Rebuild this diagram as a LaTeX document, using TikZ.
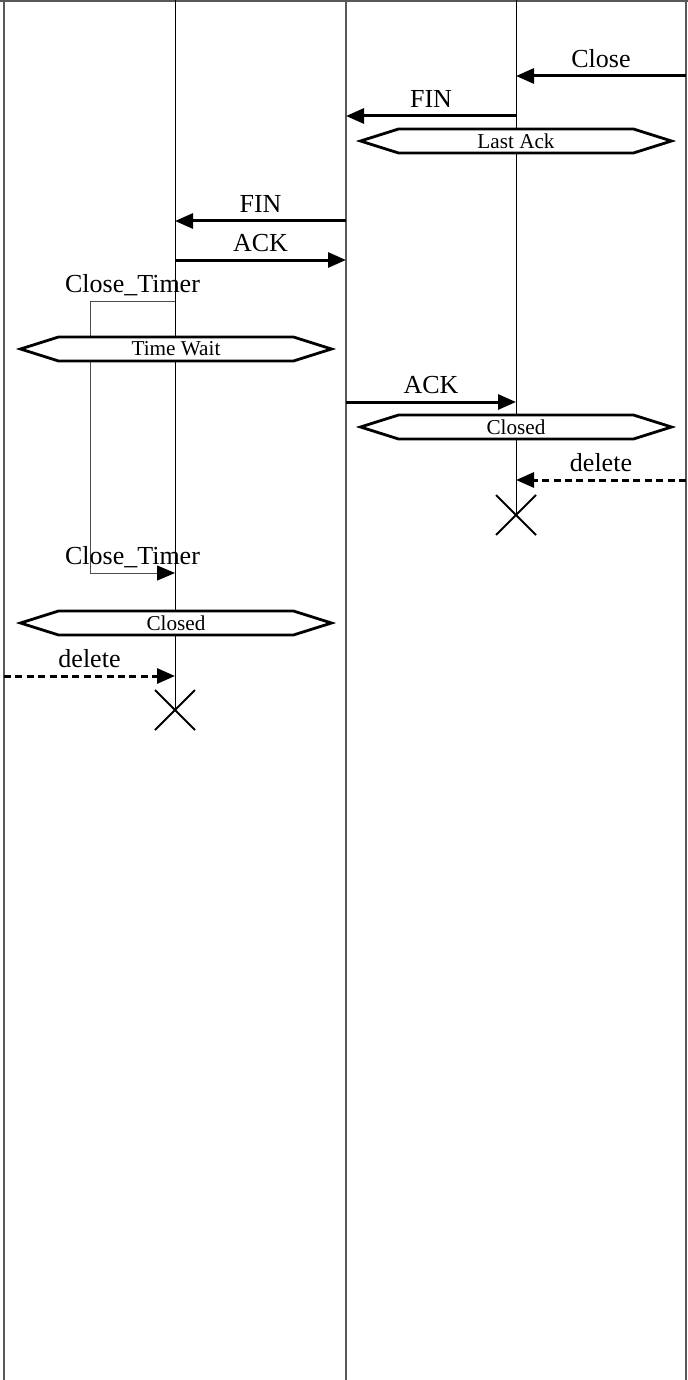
\documentclass[tikz,border=0pt]{standalone}
\usepackage{fontspec}
\setmainfont{Liberation Serif}
\usetikzlibrary{arrows.meta, shapes.symbols, shapes.misc}

\begin{document}
\begin{tikzpicture}[x=0.5pt, y=-0.5pt,
  msg/.style={line width=1.5pt, -{Triangle[length=9pt, width=7.5pt]}},
  lbl/.style={font=\fontsize{13}{15}\selectfont, anchor=base, inner sep=0pt, yshift=4.3pt, text=black},
  state/.style={signal, signal to=west and east, draw, fill=white, line width=1.4pt,
    signal pointer angle=35, minimum width=155.5pt, minimum height=12pt, inner sep=0pt,
    font=\fontsize{10.6}{12}\selectfont},
  life/.style={line width=0.5pt},
  lifeg/.style={line width=1pt, gray!70!black},
  timer/.style={line width=0.5pt, gray!60!black},
  stop/.style={cross out, draw, line width=1pt, minimum size=19pt, inner sep=0pt}]
\useasboundingbox (0,0) rectangle (688,1380);
% ---------- lifelines ----------
\coordinate (envA) at (4,0);
\coordinate (closer) at (175,0);
\coordinate (channel) at (346,0);
\coordinate (peer) at (516,0);
\coordinate (envB) at (686,0);
\draw[gray!70!black, line width=1pt] (0,1) -- (688,1);
\node[stop] (xPeer) at (516,515) {};
\node[stop] (xCloser) at (175,710) {};
\draw[lifeg] (envA) -- (4,1380);
\draw[lifeg] (channel) -- (346,1380);
\draw[lifeg] (envB) -- (686,1380);
\draw[life] (closer) -- (xCloser.center);
\draw[life] (peer) -- (xPeer.center);
% ---------- peer side: close request ----------
\coordinate (close0) at (686,76);
\coordinate (close1) at (516,76);
\draw[msg] (close0) -- node[lbl] (tClose) {Close} (close1);
\coordinate (fin0) at (516,116);
\coordinate (fin1) at (346,116);
\draw[msg] (fin0) -- node[lbl] (tFin) {FIN} (fin1);
\node[state] (sLastAck) at (516,141) {Last Ack};
% ---------- closer side ----------
\coordinate (fin2) at (346,221);
\coordinate (fin3) at (175,221);
\draw[msg] (fin2) -- node[lbl] (tFinB) {FIN} (fin3);
\coordinate (ack0) at (175,260);
\coordinate (ack1) at (346,260);
\draw[msg] (ack0) -- node[lbl] (tAck) {ACK} (ack1);
% timer set, expires later
\coordinate (tmr0) at (175,301);
\coordinate (tmr1) at (90,301);
\coordinate (tmr2) at (90,573);
\coordinate (tmr3) at (175,573);
\draw[timer] (tmr0) -- node[lbl] (tSet) {Close\_Timer} (tmr1) -- (tmr2);
\node[state] (sTimeWait) at (176,349) {Time Wait};
\draw[timer, -{Triangle[length=9pt, width=7.5pt, color=black]}] (tmr2) -- node[lbl] (tExp) {Close\_Timer} (tmr3);
% ---------- ack reaches peer ----------
\coordinate (ack2) at (346,402);
\coordinate (ack3) at (516,402);
\draw[msg] (ack2) -- node[lbl] (tAckB) {ACK} (ack3);
\node[state] (sClosedB) at (516,427) {Closed};
\coordinate (del0) at (686,480);
\coordinate (del1) at (516,480);
\draw[msg, dash pattern=on 3.5pt off 2.2pt] (del0) -- node[lbl] (tDel) {delete} (del1);
% ---------- closer closes ----------
\node[state] (sClosedA) at (176,623) {Closed};
\coordinate (del2) at (4,676);
\coordinate (del3) at (175,676);
\draw[msg, dash pattern=on 3.5pt off 2.2pt] (del2) -- node[lbl] (tDelB) {delete} (del3);
\end{tikzpicture}
\end{document}
